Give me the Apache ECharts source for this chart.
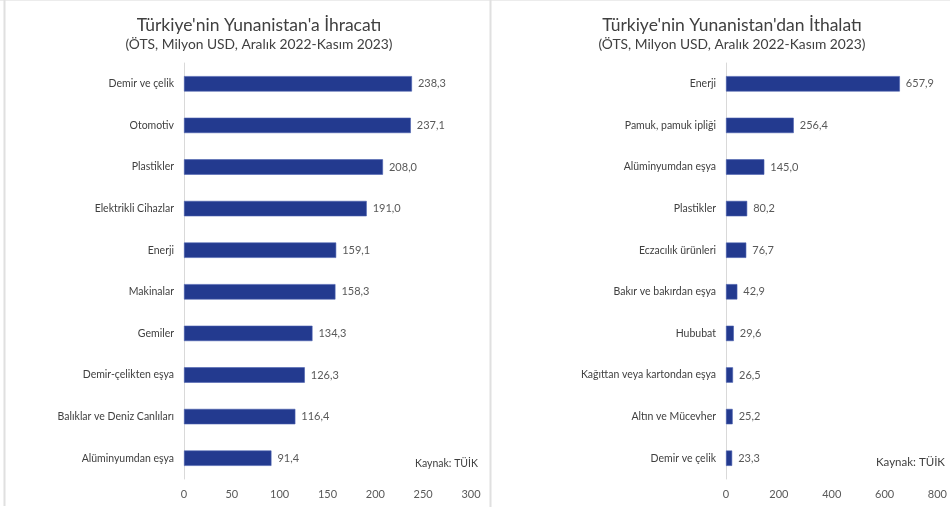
<!DOCTYPE html>
<html><head><meta charset="utf-8">
<script src="https://cdn.jsdelivr.net/npm/echarts@6/dist/echarts.min.js"></script>
<style>html,body{margin:0;padding:0;background:#fff}#c{width:950px;height:508px}</style>
</head><body><div id="c"></div>
<script>
const exportCats = ["Demir ve çelik","Otomotiv","Plastikler","Elektrikli Cihazlar","Enerji","Makinalar","Gemiler","Demir-çelikten eşya","Balıklar ve Deniz Canlıları","Alüminyumdan eşya"];
const exportVals = [238.3,237.1,208.0,191.0,159.1,158.3,134.3,126.3,116.4,91.4];
const importCats = ["Enerji","Pamuk, pamuk ipliği","Alüminyumdan eşya","Plastikler","Eczacılık ürünleri","Bakır ve bakırdan eşya","Hububat","Kağıttan veya kartondan eşya","Altın ve Mücevher","Demir ve çelik"];
const importVals = [657.9,256.4,145.0,80.2,76.7,42.9,29.6,26.5,25.2,23.3];
const exportTicks = [0,50,100,150,200,250,300];
const importTicks = [0,200,400,600,800];
const titleLeft = "Türkiye'nin Yunanistan'a İhracatı";
const titleRight = "Türkiye'nin Yunanistan'dan İthalatı";
const subtitle = "(ÖTS, Milyon USD, Aralık 2022-Kasım 2023)";
const source = "Kaynak: TÜİK";

const FONT = "Lato";
const barColor = "#233a8f";
const fmt = v => v.toFixed(1).replace('.', ',');

function xAxis(idx, ticks){
  return {type:'value', gridIndex:idx, min:ticks[0], max:ticks[ticks.length-1], interval:ticks[1]-ticks[0],
    splitLine:{show:false}, axisLine:{show:false}, axisTick:{show:false},
    axisLabel:{color:'#595959', fontFamily:FONT, fontSize:11, margin:10}};
}
function yAxis(idx, cats){
  return {type:'category', gridIndex:idx, data:cats, inverse:true,
    axisLine:{show:true, lineStyle:{color:'#d9d9d9', width:1}}, axisTick:{show:false},
    axisLabel:{color:'#404040', fontFamily:FONT, fontSize:10.5, margin:10}};
}
function series(idx, vals){
  return {type:'bar', xAxisIndex:idx, yAxisIndex:idx, data:vals, barCategoryGap:'63%',
    itemStyle:{color:barColor, borderColor:'#4a5fae', borderWidth:0.6},
    label:{show:true, position:'right', distance:6, color:'#595959', fontFamily:FONT, fontSize:11,
      formatter:p=>fmt(p.value)}};
}

const chart = echarts.init(document.getElementById('c'), null, {renderer:'canvas'});
chart.setOption({
  backgroundColor:'#fff',
  animation:false,
  grid:[
    {left:184, top:63, width:287, height:416, containLabel:false},
    {left:726, top:63, width:215, height:416, containLabel:false}
  ],
  xAxis:[xAxis(0, exportTicks), xAxis(1, importTicks)],
  yAxis:[yAxis(0, exportCats), yAxis(1, importCats)],
  series:[series(0, exportVals), series(1, importVals)],
  title:[
    {text:titleLeft, subtext:subtitle, left:254, top:11, textAlign:'center', itemGap:4,
      textStyle:{color:'#404040', fontFamily:FONT, fontSize:17.5, fontWeight:'normal'},
      subtextStyle:{color:'#404040', fontFamily:FONT, fontSize:13.8}},
    {text:titleRight, subtext:subtitle, left:727, top:11, textAlign:'center', itemGap:4,
      textStyle:{color:'#404040', fontFamily:FONT, fontSize:17.5, fontWeight:'normal'},
      subtextStyle:{color:'#404040', fontFamily:FONT, fontSize:13.8}}
  ],
  graphic:[
    {type:'line', shape:{x1:0,y1:0.5,x2:950,y2:0.5}, style:{stroke:'#ececec', lineWidth:1}},
    {type:'line', shape:{x1:4.5,y1:0,x2:4.5,y2:506}, style:{stroke:'#e0e0e0', lineWidth:2}},
    {type:'line', shape:{x1:490.5,y1:0,x2:490.5,y2:507}, style:{stroke:'#e0e0e0', lineWidth:2}},
    {type:'text', left:415, top:458, style:{text:source, fill:'#404040', font:'10.5px '+FONT}},
    {type:'text', left:876, top:456, style:{text:source, fill:'#404040', font:'11.5px '+FONT}}
  ]
});
</script></body></html>
